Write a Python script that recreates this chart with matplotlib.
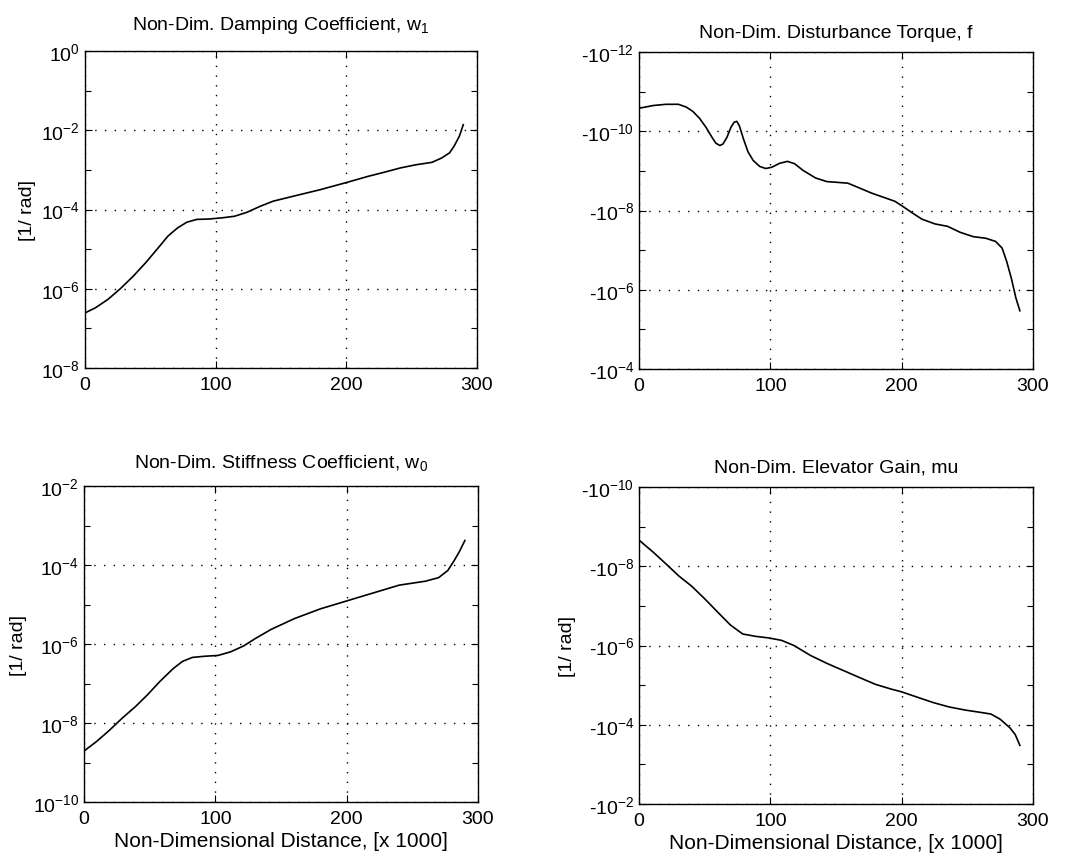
import numpy as np
import matplotlib
matplotlib.use("Agg")
import matplotlib.pyplot as plt
from matplotlib.ticker import FixedLocator, FuncFormatter, NullFormatter

plt.rcParams['font.family'] = ['Liberation Sans', 'DejaVu Sans']
plt.rcParams['mathtext.fontset'] = 'custom'
plt.rcParams['mathtext.rm'] = 'Liberation Sans'
plt.rcParams['mathtext.it'] = 'Liberation Sans'

# distance samples (x 1000) and log10 of each coefficient
x_w1 = [0, 8, 17.5, 27, 37, 46.5, 56, 63.5, 71, 78, 85.5, 95, 105, 114.5, 124,
        134, 144, 160, 180, 200, 217, 229, 241.5, 253.5, 265.5, 273, 279,
        282.5, 286.5, 289.5]
log_w1 = [-6.61, -6.48, -6.27, -6.00, -5.68, -5.34, -4.97, -4.67, -4.46, -4.32,
          -4.25, -4.24, -4.21, -4.17, -4.07, -3.92, -3.79, -3.66, -3.50, -3.32,
          -3.16, -3.06, -2.95, -2.87, -2.81, -2.70, -2.57, -2.40, -2.15, -1.86]

x_f = [0, 11, 20.5, 30, 36, 41, 46, 51, 55.5, 58.5, 61.5, 64, 67, 70, 72.5,
       74.5, 76.5, 79.5, 83, 87, 92, 96.5, 101, 107, 113, 118.5, 125, 134.5,
       143, 159, 167, 177, 186.5, 195, 201, 208.5, 215.5, 225.5, 235, 244.5,
       254.5, 264, 271.5, 276.5, 280, 283.5, 287, 290]
log_f = [-10.58, -10.65, -10.68, -10.68, -10.61, -10.50, -10.33, -10.10, -9.85,
         -9.70, -9.64, -9.68, -9.85, -10.10, -10.23, -10.25, -10.13, -9.81,
         -9.48, -9.26, -9.11, -9.06, -9.09, -9.19, -9.24, -9.18, -9.01, -8.82,
         -8.73, -8.69, -8.58, -8.44, -8.33, -8.23, -8.10, -7.93, -7.78, -7.66,
         -7.60, -7.45, -7.34, -7.30, -7.22, -7.05, -6.71, -6.29, -5.79, -5.47]

x_w0 = [0, 9.5, 19.5, 29, 39, 48.5, 58, 68, 75, 82.5, 92, 102, 111.5, 121.5,
        131, 142.5, 160, 180, 200, 220, 240, 260, 270, 277, 282, 286, 290]
log_w0 = [-8.71, -8.47, -8.18, -7.88, -7.59, -7.28, -6.94, -6.62, -6.44, -6.34,
          -6.31, -6.29, -6.20, -6.05, -5.85, -5.63, -5.36, -5.11, -4.91, -4.71,
          -4.51, -4.41, -4.32, -4.14, -3.88, -3.65, -3.38]

x_mu = [0, 11, 20.5, 30.5, 40, 50, 60, 69.5, 79, 89, 99, 108.5, 118, 130.5,
        143, 155.5, 168, 180, 192, 200, 211.5, 224, 236, 248.5, 260.5, 268,
        275, 282.5, 286.5, 290]
log_mu = [-8.66, -8.35, -8.06, -7.75, -7.50, -7.18, -6.84, -6.52, -6.29, -6.23,
          -6.19, -6.13, -6.00, -5.75, -5.55, -5.37, -5.19, -5.02, -4.90, -4.83,
          -4.70, -4.56, -4.45, -4.37, -4.31, -4.27, -4.14, -3.92, -3.75, -3.48]

# disturbance torque and elevator gain are negative quantities
w1 = 10.0 ** np.array(log_w1)
f = -10.0 ** np.array(log_f)
w0 = 10.0 ** np.array(log_w0)
mu = -10.0 ** np.array(log_mu)

panels = [
    dict(x=x_w1, y=w1, title='Non-Dim. Damping Coefficient, w$_1$', pad=16,
         dec=(-8, 0), neg=False, ylabel=True, xlabel=False,
         rect=[85, 52, 477, 369]),
    dict(x=x_f, y=f, title='Non-Dim. Disturbance Torque, f', pad=11,
         dec=(-12, -4), neg=True, ylabel=False, xlabel=False,
         rect=[639, 53, 1033, 370]),
    dict(x=x_w0, y=w0, title='Non-Dim. Stiffness Coefficient, w$_0$', pad=14,
         dec=(-10, -2), neg=False, ylabel=True, xlabel=True,
         rect=[84, 487, 478, 803]),
    dict(x=x_mu, y=mu, title='Non-Dim. Elevator Gain, mu', pad=11,
         dec=(-10, -2), neg=True, ylabel=True, xlabel=True,
         rect=[639, 488, 1033, 805]),
]

W, H = 1074, 862
fig = plt.figure(figsize=(W / 100, H / 100), dpi=100)

for p in panels:
    l, t, r, b = p['rect']
    ax = fig.add_axes([l / W, 1 - b / H, (r - l) / W, (b - t) / H])
    lo, hi = p['dec']
    yv = np.abs(p['y']) if p['neg'] else p['y']
    ax.plot(p['x'], yv, color='black', lw=1.2)
    ax.set_yscale('log')
    if p['neg']:
        # magnitude grows downwards, labels carry the sign
        ax.set_ylim(10.0 ** hi, 10.0 ** lo)
        fmt = FuncFormatter(lambda v, _: '-$10^{%d}$' % round(np.log10(v)))
    else:
        ax.set_ylim(10.0 ** lo, 10.0 ** hi)
        fmt = FuncFormatter(lambda v, _: '$10^{%d}$' % round(np.log10(v)))
    ax.yaxis.set_major_locator(FixedLocator([10.0 ** k for k in range(lo, hi + 1, 2)]))
    ax.yaxis.set_minor_locator(FixedLocator([10.0 ** k for k in range(lo + 1, hi, 2)]))
    ax.yaxis.set_major_formatter(fmt)
    ax.yaxis.set_minor_formatter(NullFormatter())
    ax.set_xlim(0, 300)
    ax.set_xticks([0, 100, 200, 300])
    ax.grid(True, which='major', color='black', linestyle=(0, (1, 6)), lw=1.0)
    ax.tick_params(which='both', direction='in', top=True, right=True,
                   labelsize=14, width=0.8, color='black')
    ax.tick_params(which='major', length=5)
    ax.tick_params(which='minor', length=4)
    ax.tick_params(axis='x', pad=6)
    for s in ax.spines.values():
        s.set_linewidth(1.0)
    ax.set_title(p['title'], fontsize=14, pad=p['pad'])
    if p['ylabel']:
        ax.set_ylabel('[1/ rad]', fontsize=14)
    if p['xlabel']:
        ax.set_xlabel('Non-Dimensional Distance, [x 1000]', fontsize=15, labelpad=3)

fig.savefig('out.png', dpi=100)
